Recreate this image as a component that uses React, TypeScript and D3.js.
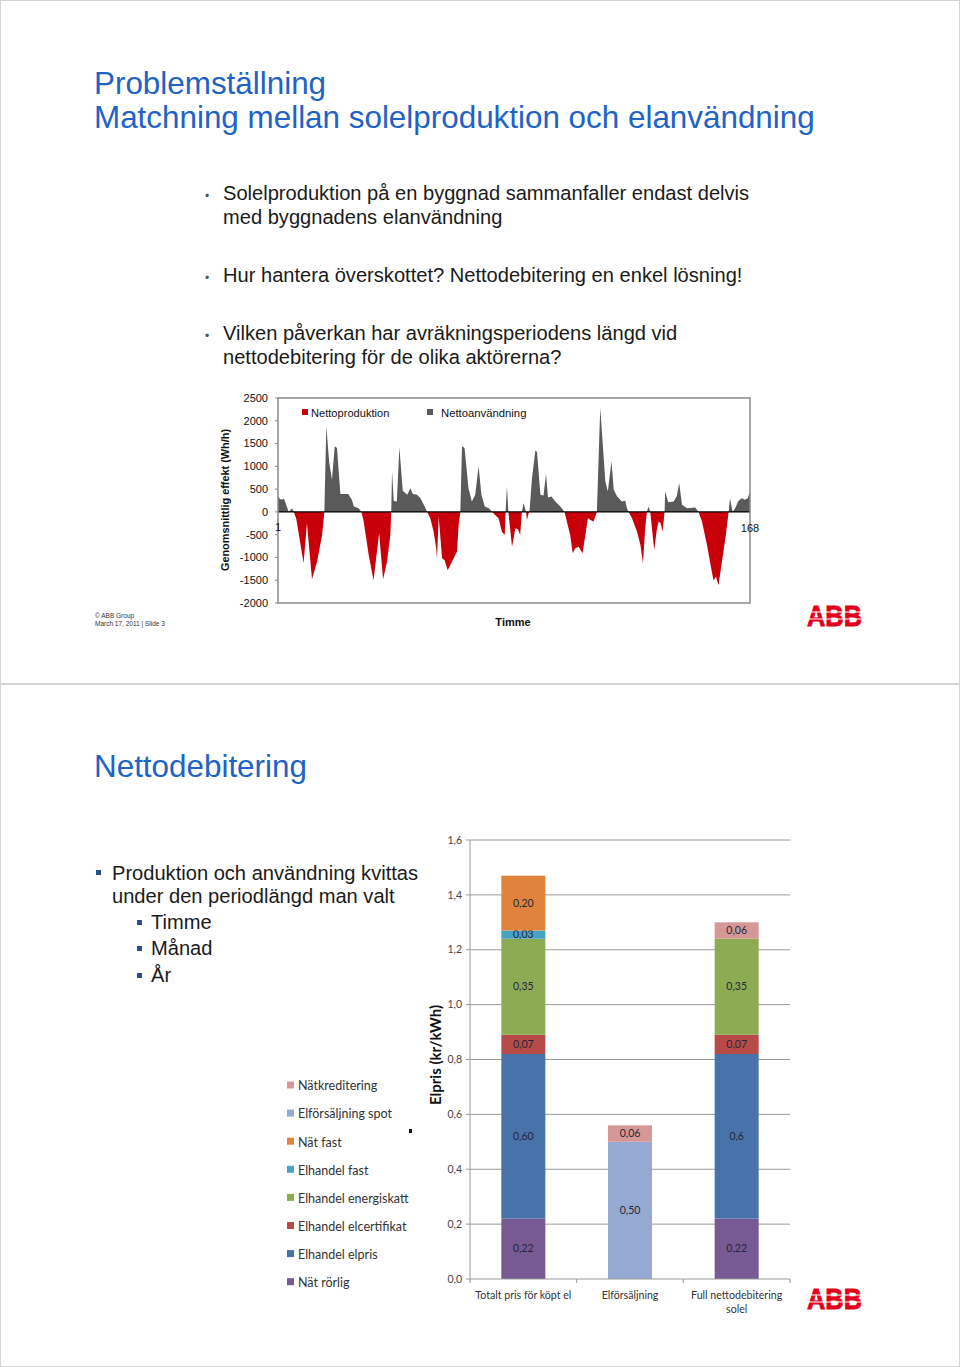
import React from "react";
import * as d3 from "d3";

// ---------- Slide 1 data: net power over one week (hour, Wh/h) ----------
const hours = [
  0, 0.8, 1.5, 2.1, 2.5, 3.8, 4.5, 5, 5.6,
  6.5, 9.1, 10.3, 12.1, 13.9, 15.7, 16.5,
  17.2, 18.2, 19.2, 20.2, 21, 22.2, 25, 26.3, 27, 28.7, 29.7,
  30.5, 32.3, 34.0, 36.0, 37.4, 38.8, 40.0, 40.3,
  40.6, 41.2, 42.3, 43.2, 44.4, 46, 47.1, 48, 49.5, 50.7, 51.9, 53.1,
  54.2, 55.4, 56.3, 56.6, 57.2, 58.4, 59.3, 60.4, 61.9, 63.7, 64.3, 64.9,
  65.5, 66.4, 67.8, 69, 70.2, 71.4, 72.4, 73.6, 75, 76.2,
  78.5, 79.7, 80.7, 81.0, 81.5, 82.0, 83.3, 84.5, 85.4, 86.2, 86.8, 87.4, 88.3, 88.6, 89.2, 89.5,
  90.4, 91.6, 92.2, 93.4, 94.5, 95.4, 96.1, 97.3, 98.7, 100.5, 102,
  102.8, 104, 104.9, 105.8, 107, 108.4, 109.4, 110.3, 111.2, 112.3, 113.5,
  114.7, 116.5, 117.4, 118.7, 119.5, 120.7, 122.4, 123.6, 124.2, 124.8,
  126, 127.8, 129, 129.9, 130.7, 131.3, 131.9, 132.5, 133.1, 133.9, 134.9, 135.5, 136.2, 136.9, 137.5, 137.6,
  137.8, 138.9, 140.8, 141.9, 142.8, 143.8, 145.6, 148.5, 149.7,
  150.9, 152.7, 154.2, 155, 155.9, 156.8, 158, 159.4, 160.4,
  160.9, 161.8, 162.7, 163.9, 165.1, 166.2, 167.2, 168,
];
const netPower = [
  340, 280, 270, 290, 230, 0, 40, 80, 0,
  -150, -1130, -250, -1480, -1095, -510, 0,
  1880, 1100, 705, 1440, 1400, 390, 390, 265, 118, 80, 0,
  -213, -950, -1500, -470, -1480, -1095, -500, 0,
  890, 240, 230, 1420, 463, 375, 520, 390, 375, 300, 155, 0,
  -140, -434, -800, -1020, -100, -1020, -1060, -1280, -1095, -875, -290, 0,
  1440, 1400, 520, 228, 375, 1000, 375, 118, 80, 0,
  -140, -434, -507, 0, 560, 0, -765, -360, -380, -507, 0, 190, 0, -176, -30, 0,
  740, 1345, 1315, 375, 360, 830, 316, 338, 228, 118, 0,
  -213, -507, -910, -800, -765, -910, -507, -140, -176, -213, 0,
  2285, 670, 450, 1110, 485, 338, 228, 243, 80, 0,
  -140, -434, -728, -1130, -360, 0, 118, 0, -360, -838, -360, -213, -250, -434, -60, 0,
  450, 213, 228, 338, 632, 155, 80, 95, 0,
  -213, -728, -1240, -1500, -1425, -1610, -1095, -507, 0,
  300, 0, 80, 243, 300, 265, 300, 450,
];
const powerTicks = [2500, 2000, 1500, 1000, 500, 0, -500, -1000, -1500, -2000];
const areaLegend = ["Nettoproduktion", "Nettoanvändning"];

// ---------- Slide 2 data: stacked price bars (kr/kWh) ----------
const priceCategories = ["Totalt pris för köpt el", "Elförsäljning", "Full nettodebitering solel"];
const seriesNames = [
  "Nät rörlig",
  "Elhandel elpris",
  "Elhandel elcertifikat",
  "Elhandel energiskatt",
  "Elhandel fast",
  "Nät fast",
  "Elförsäljning spot",
  "Nätkreditering",
];
const natRorlig = [0.22, 0, 0.22];
const elhandelElpris = [0.6, 0, 0.6];
const elhandelElcertifikat = [0.07, 0, 0.07];
const elhandelEnergiskatt = [0.35, 0, 0.35];
const elhandelFast = [0.03, 0, 0];
const natFast = [0.2, 0, 0];
const elforsaljningSpot = [0, 0.5, 0];
const natkreditering = [0, 0.06, 0.06];
const seriesValues = [
  natRorlig, elhandelElpris, elhandelElcertifikat, elhandelEnergiskatt,
  elhandelFast, natFast, elforsaljningSpot, natkreditering,
];
const segmentLabels = [
  ["0,22", "", "0,22"],
  ["0,60", "", "0,6"],
  ["0,07", "", "0,07"],
  ["0,35", "", "0,35"],
  ["0,03", "", ""],
  ["0,20", "", ""],
  ["", "0,50", ""],
  ["", "0,06", "0,06"],
];
const seriesColors = [
  "#775a94", "#4773aa", "#b84b48", "#8dab53",
  "#47a3c2", "#e0843d", "#95a9d2", "#d59896",
];
const priceTicks = [0, 0.2, 0.4, 0.6, 0.8, 1.0, 1.2, 1.4, 1.6];

const TITLE_BLUE = "#2162c6";
const ARIAL = "'Liberation Sans', Arial, Helvetica, sans-serif";
const CAL = "Lato, 'Open Sans', sans-serif";

function AbbLogo({ x, y }: { x: number; y: number }) {
  return (
    <g>
      <text x={x} y={y} fontFamily={ARIAL} fontWeight="bold" fontSize={30} fill="#e3001b"
        stroke="#e3001b" strokeWidth={0.8}
        textLength={55} lengthAdjust="spacingAndGlyphs">ABB</text>
      <line x1={x - 2} x2={x + 58} y1={y - 7} y2={y - 7} stroke="#fff" strokeWidth={1} />
      <line x1={x - 2} x2={x + 58} y1={y - 14} y2={y - 14} stroke="#fff" strokeWidth={1} />
    </g>
  );
}

function AreaChart() {
  const x = d3.scaleLinear().domain([0, 168]).range([278, 750]);
  const y = d3.scaleLinear().domain([-2000, 2500]).range([603, 398]);
  const pts = hours.map((h, i) => ({ h, v: netPower[i] }));
  const posArea = d3.area<{ h: number; v: number }>()
    .x((d) => x(d.h)).y0(y(0)).y1((d) => y(Math.max(0, d.v)));
  const negArea = d3.area<{ h: number; v: number }>()
    .x((d) => x(d.h)).y0(y(0)).y1((d) => y(Math.min(0, d.v)));
  return (
    <g fontFamily={ARIAL}>
      <path d={posArea(pts) || ""} fill="#5a5a5a" />
      <path d={negArea(pts) || ""} fill="#c8000a" />
      <line x1={x(0)} x2={x(168)} y1={y(0)} y2={y(0)} stroke="#000" strokeWidth={1.2} />
      <rect x={x(0)} y={y(2500)} width={x(168) - x(0)} height={y(-2000) - y(2500)}
        fill="none" stroke="#8a8a8a" strokeWidth={1.5} />
      {powerTicks.map((t) => (
        <g key={t}>
          <line x1={x(0) - 3} x2={x(0)} y1={y(t)} y2={y(t)} stroke="#8a8a8a" />
          <text x={268} y={y(t)} dy="0.35em" textAnchor="end" fontSize={11} fill="#111">{t}</text>
        </g>
      ))}
      <text x={x(0)} y={y(0) + 19} textAnchor="middle" fontSize={11} fill="#111">1</text>
      <text x={x(168)} y={y(0) + 20} textAnchor="middle" fontSize={11} fill="#111">168</text>
      <text transform="translate(229,500) rotate(-90)" textAnchor="middle" fontSize={10.9}
        fontWeight="bold" fill="#111">Genomsnittlig effekt (Wh/h)</text>
      <text x={513} y={626} textAnchor="middle" fontSize={11} fontWeight="bold" fill="#111">Timme</text>
      <rect x={302} y={409} width={6} height={6} fill="#c8000a" />
      <text x={311} y={417} fontSize={11.1} fill="#111">{areaLegend[0]}</text>
      <rect x={427} y={409} width={6} height={6} fill="#5a5a5a" />
      <text x={441} y={417} fontSize={11.3} fill="#111">{areaLegend[1]}</text>
    </g>
  );
}

function BarChart() {
  const x = d3.scaleBand<string>().domain(priceCategories).range([470, 790])
    .paddingInner(0.5875).paddingOuter(0.29375);
  const y = d3.scaleLinear().domain([0, 1.6]).range([1279, 840]);
  const table = priceCategories.map((c, ci) => {
    const row: Record<string, number | string> = { cat: c };
    seriesNames.forEach((s, si) => (row[s] = seriesValues[si][ci]));
    return row;
  });
  const stack = d3.stack<Record<string, number | string>>().keys(seriesNames)
    .value((d, k) => d[k] as number);
  const layers = stack(table);
  const fmt = (v: number) => v.toFixed(1).replace(".", ",");
  const step = x.step();
  return (
    <g fontFamily={CAL}>
      {priceTicks.map((t) => (
        <g key={t}>
          {t > 0 && <line x1={470} x2={790} y1={y(t)} y2={y(t)} stroke="#9a9a9a" strokeWidth={1} />}
          <line x1={466} x2={470} y1={y(t)} y2={y(t)} stroke="#9a9a9a" />
          <text x={462} y={y(t)} dy="0.35em" textAnchor="end" fontSize={10.5} fill="#444">{fmt(t)}</text>
        </g>
      ))}
      <line x1={470} x2={470} y1={y(0)} y2={y(1.6)} stroke="#9a9a9a" />
      {layers.map((layer, li) =>
        layer.map((seg, ci) => {
          const v = seg[1] - seg[0];
          if (v <= 0) return null;
          const cat = priceCategories[ci];
          const bx = x(cat)!;
          const lbl = segmentLabels[li][ci];
          return (
            <g key={`${li}-${ci}`}>
              <rect x={bx} y={y(seg[1])} width={x.bandwidth()} height={y(seg[0]) - y(seg[1])}
                fill={seriesColors[li]} />
              {lbl && (
                <text x={bx + x.bandwidth() / 2} y={(y(seg[0]) + y(seg[1])) / 2} dy="0.35em"
                  textAnchor="middle" fontSize={10.5} fill="#26263a">{lbl}</text>
              )}
            </g>
          );
        })
      )}
      <line x1={470} x2={790} y1={y(0)} y2={y(0)} stroke="#9a9a9a" />
      {[0, 1, 2, 3].map((i) => (
        <line key={i} x1={470 + i * step} x2={470 + i * step} y1={y(0)} y2={y(0) + 4} stroke="#9a9a9a" />
      ))}
      {priceCategories.map((c) => {
        const cx = x(c)! + x.bandwidth() / 2;
        const parts = c === "Full nettodebitering solel" ? ["Full nettodebitering", "solel"] : [c];
        return parts.map((p, i) => (
          <text key={c + i} x={cx} y={1299 + i * 14} textAnchor="middle" fontSize={10.6} fill="#333">{p}</text>
        ));
      })}
      <text transform="translate(441,1055) rotate(-90)" textAnchor="middle" fontSize={15}
        fontWeight="bold" fill="#111">Elpris (kr/kWh)</text>
      {seriesNames.slice().reverse().map((s, i) => {
        const si = seriesNames.length - 1 - i;
        const ly = 1086 + i * 28.1;
        return (
          <g key={s}>
            <rect x={287} y={ly - 4.5} width={7} height={7} fill={seriesColors[si]} />
            <text x={298} y={ly} dy="0.35em" fontSize={12.5} fill="#333">{s}</text>
          </g>
        );
      })}
      <rect x={409} y={1129} width={3} height={4} fill="#111" />
    </g>
  );
}

export default function App() {
  return (
    <div style={{ position: "absolute", left: 0, top: 0 }}>
      <svg width={960} height={1367} style={{ display: "block", background: "#fff" }}>
        <rect x={0.5} y={0.5} width={959} height={683} fill="#fff" stroke="#d4d4d4" />
        <rect x={0.5} y={684.5} width={959} height={682} fill="#fff" stroke="#d4d4d4" />

        {/* Slide 1 */}
        <g fontFamily={ARIAL}>
          <text x={94} y={94} fontSize={31.4} fill={TITLE_BLUE}>Problemställning</text>
          <text x={94} y={128} fontSize={31.4} fill={TITLE_BLUE}>Matchning mellan solelproduktion och elanvändning</text>
          <g fontSize={20.1} fill="#1a1a1a">
            <text x={205} y={200} fontSize={12} fill="#555">•</text>
            <text x={223} y={200}>Solelproduktion på en byggnad sammanfaller endast delvis</text>
            <text x={223} y={224}>med byggnadens elanvändning</text>
            <text x={205} y={282} fontSize={12} fill="#555">•</text>
            <text x={223} y={282}>Hur hantera överskottet? Nettodebitering en enkel lösning!</text>
            <text x={205} y={340} fontSize={12} fill="#555">•</text>
            <text x={223} y={340}>Vilken påverkan har avräkningsperiodens längd vid</text>
            <text x={223} y={364}>nettodebitering för de olika aktörerna?</text>
          </g>
          <text x={95} y={618} fontSize={6.5} fill="#333">© ABB Group</text>
          <text x={95} y={625.5} fontSize={6.5} fill="#333">March 17, 2011 | Slide 3</text>
        </g>
        <AreaChart />
        <AbbLogo x={807} y={626} />

        {/* Slide 2 */}
        <g fontFamily={ARIAL}>
          <text x={94} y={777} fontSize={31.4} fill={TITLE_BLUE}>Nettodebitering</text>
          <g fontSize={20.1} fill="#1a1a1a">
            <rect x={96} y={870} width={5} height={5} fill="#2b4f8c" />
            <text x={112} y={880}>Produktion och användning kvittas</text>
            <text x={112} y={903}>under den periodlängd man valt</text>
            <rect x={137} y={920} width={5} height={5} fill="#2b4f8c" />
            <text x={151} y={929}>Timme</text>
            <rect x={137} y={946} width={5} height={5} fill="#2b4f8c" />
            <text x={151} y={955}>Månad</text>
            <rect x={137} y={973} width={5} height={5} fill="#2b4f8c" />
            <text x={151} y={982}>År</text>
          </g>
        </g>
        <BarChart />
        <AbbLogo x={807} y={1309} />
      </svg>
    </div>
  );
}
